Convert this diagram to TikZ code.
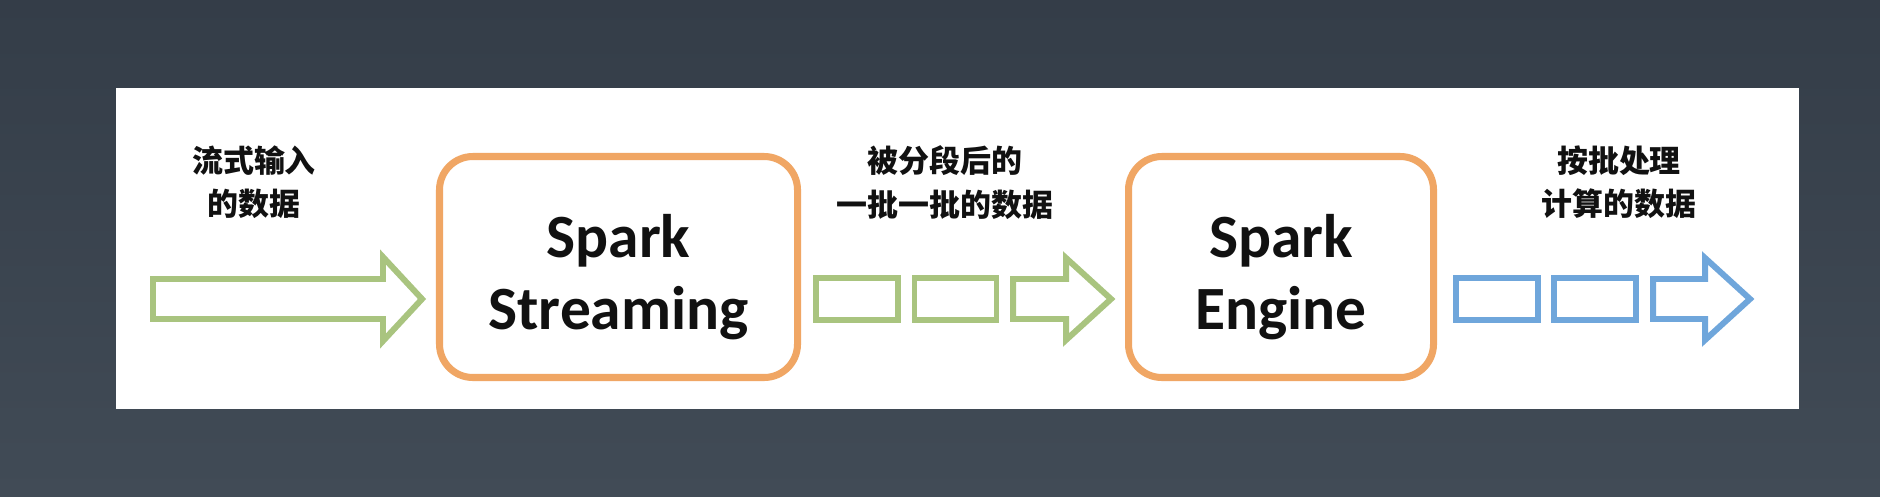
\documentclass[tikz,border=0pt]{standalone}
\usepackage{fontspec}
\setmainfont{Carlito}
\newfontfamily\cjk{Noto Sans CJK SC}
\usetikzlibrary{positioning}
\definecolor{bgtop}{HTML}{343D48}
\definecolor{bgbot}{HTML}{414B56}
\definecolor{sgreen}{HTML}{A9C47F}
\definecolor{sorange}{HTML}{F0A664}
\definecolor{sblue}{HTML}{6FA6DB}
\definecolor{ink}{HTML}{111111}
\tikzset{
  stagebox/.style={draw=sorange, line width=2pt, fill=white, rounded corners=9.5pt,
                   minimum height=2.21cm},
  stagetext/.style={align=center, text=ink, font=\bfseries\fontsize{17.5}{20.5}\selectfont},
  gbatch/.style={draw=sgreen, line width=1.7pt, minimum width=0.82cm,
                 minimum height=0.42cm, inner sep=0pt},
  bbatch/.style={gbatch, draw=sblue},
  garr/.style={draw=sgreen, line width=1.7pt, line join=miter},
  barr/.style={garr, draw=sblue},
  lbl/.style={align=center, text=ink, font=\cjk\bfseries\fontsize{8.8}{12.3}\selectfont}}

\begin{document}
\begin{tikzpicture}
  \useasboundingbox (0,0) rectangle (18.8,-4.96);
  % backdrop and white panel
  \shade[top color=bgtop, bottom color=bgbot] (0,0) rectangle (18.8,-4.96);
  \fill[white] (1.16,-0.88) rectangle (17.99,-4.09);

  % the two stages
  \node[stagebox, minimum width=3.58cm] (stream) at (6.185,-2.67) {};
  \node[stagetext] (streamtxt) at ([yshift=-0.1cm]stream.center) {Spark\\Streaming};
  \node[stagebox, minimum width=3.05cm] (engine) at (12.81,-2.67) {};
  \node[stagetext] (enginetxt) at ([yshift=-0.1cm]engine.center) {Spark\\Engine};

  % input stream
  \draw[garr] (1.53,-2.79) -- (3.83,-2.79) -- (3.83,-2.57) -- (4.22,-2.99)
    -- (3.83,-3.41) -- (3.83,-3.19) -- (1.53,-3.19) -- cycle;
  \node[lbl] (inlbl) at (2.54,-1.825) {流式输入\\的数据};

  % batches out of Spark Streaming
  \node[gbatch] (g1) at (8.57,-2.99) {};
  \node[gbatch, right=0.105cm of g1] (g2) {};
  \draw[garr] (10.13,-2.79) -- (10.66,-2.79) -- (10.66,-2.58) -- (11.11,-2.99)
    -- (10.66,-3.40) -- (10.66,-3.19) -- (10.13,-3.19) -- cycle;
  \node[lbl] (midlbl) at (9.45,-1.825) {被分段后的\\一批一批的数据};

  % processed batches out of Spark Engine
  \node[bbatch] (b1) at (14.965,-2.99) {};
  \node[bbatch, right=0.105cm of b1] (b2) {};
  \draw[barr] (16.53,-2.79) -- (17.05,-2.79) -- (17.05,-2.58) -- (17.50,-2.99)
    -- (17.05,-3.40) -- (17.05,-3.19) -- (16.53,-3.19) -- cycle;
  \node[lbl] (outlbl) at (16.19,-1.825) {按批处理\\计算的数据};
\end{tikzpicture}
\end{document}
